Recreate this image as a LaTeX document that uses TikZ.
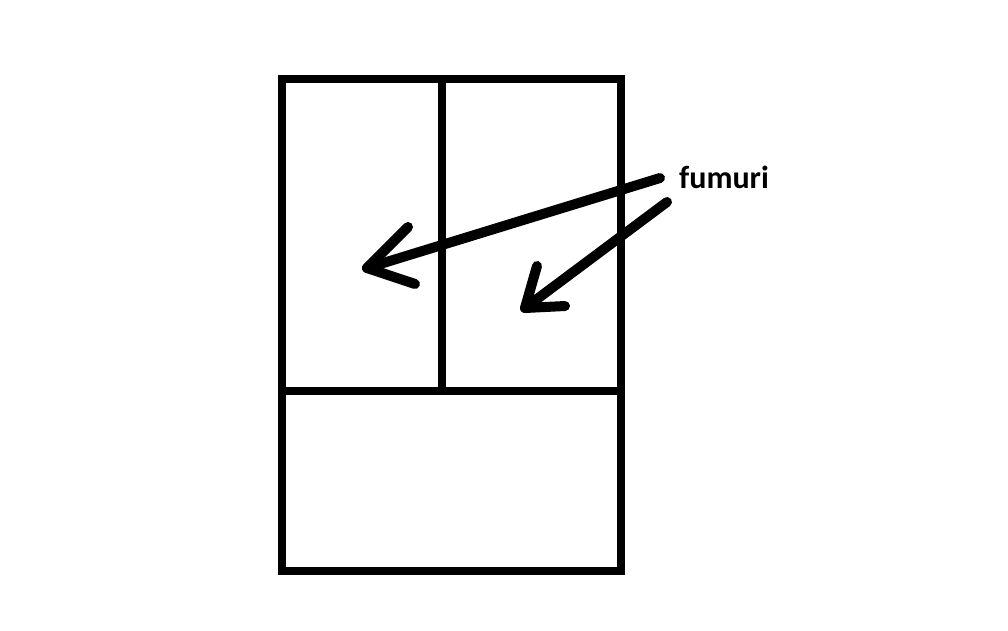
\documentclass[tikz,border=0pt]{standalone}
\usepackage{fontspec}
\setmainfont{Carlito}
\begin{document}
\begin{tikzpicture}[x=1pt,y=-1pt,
  frame/.style={line width=8pt, line cap=rect},
  stroke/.style={line width=10pt, line cap=round, line join=round},
  lbl/.style={font=\bfseries\fontsize{32}{36}\selectfont, inner sep=0pt, anchor=base west}]
\useasboundingbox[fill=white] (0,0) rectangle (1008,630);
\draw[frame, line join=miter] (282,79) rectangle (621,571);
\draw[frame] (282,391) -- (621,391);
\draw[frame] (442,79) -- (442,391);
\node[lbl] (fum) at (679,188) {fumuri};
\coordinate (s1) at (660,178);
\coordinate (t1) at (367,268);
\coordinate (s2) at (667,202);
\coordinate (t2) at (525,308);
\draw[stroke] (s1) -- (t1);
\draw[stroke] (408,227) -- (t1) -- (415,284);
\draw[stroke] (s2) -- (t2);
\draw[stroke] (537,266) -- (t2) -- (565,306);
\end{tikzpicture}
\end{document}
